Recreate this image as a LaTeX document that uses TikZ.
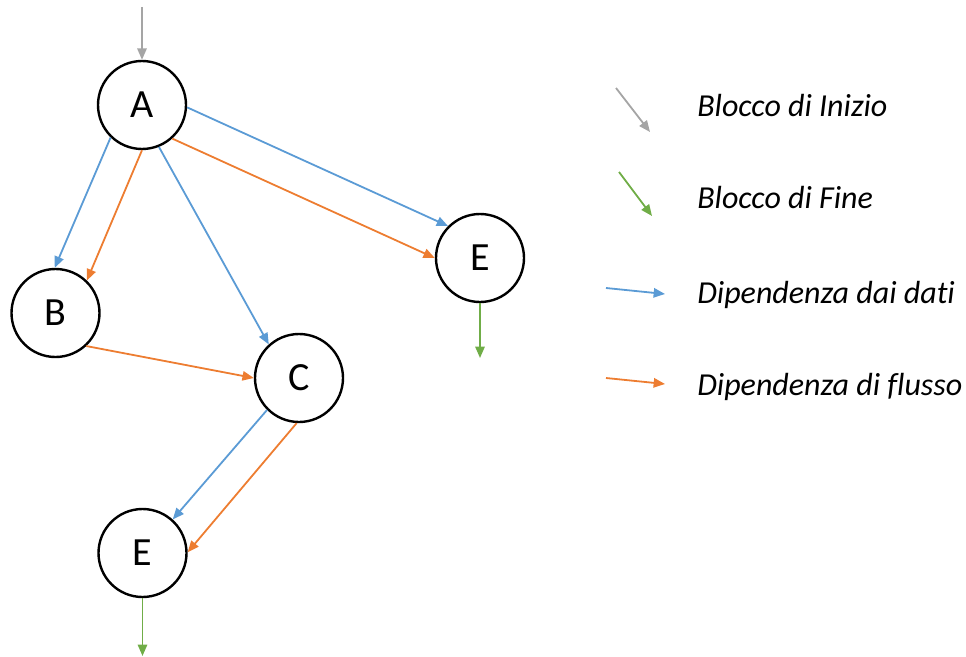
\documentclass[tikz,border=0pt]{standalone}
\usepackage{fontspec}
\setmainfont{Carlito}[Ligatures=NoCommon]
\usetikzlibrary{arrows.meta}

\definecolor{startgray}{HTML}{A5A5A5}
\definecolor{endgreen}{HTML}{70AD47}
\definecolor{datablue}{HTML}{5B9BD5}
\definecolor{flowor}{HTML}{ED7D31}

\tikzset{
  block/.style={circle, draw=black, line width=1.8pt, minimum size=66pt,
    inner sep=0pt, font=\fontsize{30}{31}\selectfont},
  dep/.style={line width=1.35pt, -{Triangle[length=8.5pt,width=7pt]}},
  startarr/.style={dep, draw=startgray},
  endarr/.style={dep, draw=endgreen},
  dataarr/.style={dep, draw=datablue},
  flowarr/.style={dep, draw=flowor},
  legendtext/.style={anchor=base west, inner sep=0pt,
    font=\fontsize{24}{27}\selectfont\itshape}
}

\begin{document}
\begin{tikzpicture}[x=0.75pt, y=-0.75pt]
  \useasboundingbox (0,0) rectangle (966,656);

  % blocks
  \node[block] (A)  at (142,105) {A};
  \node[block] (B)  at (55.5,313) {B};
  \node[block] (C)  at (299,378) {C};
  \node[block] (E1) at (142.5,553) {E};
  \node[block] (E2) at (480,258) {E};

  % entry and exit points
  \coordinate (in)    at (142,7);
  \coordinate (out1)  at (142.5,656);
  \coordinate (out2)  at (480,358);

  % start and end arrows
  \draw[startarr] (in) -- (A.north);
  \draw[endarr] (E1.south) -- (out1);
  \draw[endarr] (E2.south) -- (out2);

  % data dependencies
  \draw[dataarr] (A.226) -- (B.91);
  \draw[dataarr] (A.292) -- (C.132);
  \draw[dataarr] (A.357) -- (E2.135);
  \draw[dataarr] (C.225) -- (E1.48);

  % flow dependencies
  \draw[flowarr] (A.270) -- (B.46);
  \draw[flowarr] (A.312) -- (E2.180);
  \draw[flowarr] (B.313) -- (C.180);
  \draw[flowarr] (C.267) -- (E1.1);

  % legend
  \coordinate (lg1a) at (616,88);  \coordinate (lg1b) at (650,132);
  \coordinate (lg2a) at (619,172); \coordinate (lg2b) at (652,216);
  \coordinate (lg3a) at (606,288); \coordinate (lg3b) at (665,294);
  \coordinate (lg4a) at (606,378); \coordinate (lg4b) at (665,384);
  \draw[startarr] (lg1a) -- (lg1b);
  \draw[endarr]   (lg2a) -- (lg2b);
  \draw[dataarr]  (lg3a) -- (lg3b);
  \draw[flowarr]  (lg4a) -- (lg4b);

  \node[legendtext] (t1) at (697,117) {Blocco di Inizio};
  \node[legendtext] (t2) at (697,208) {Blocco di Fine};
  \node[legendtext] (t3) at (697,303) {Dipendenza dai dati};
  \node[legendtext] (t4) at (697,395) {Dipendenza di flusso};
\end{tikzpicture}
\end{document}
